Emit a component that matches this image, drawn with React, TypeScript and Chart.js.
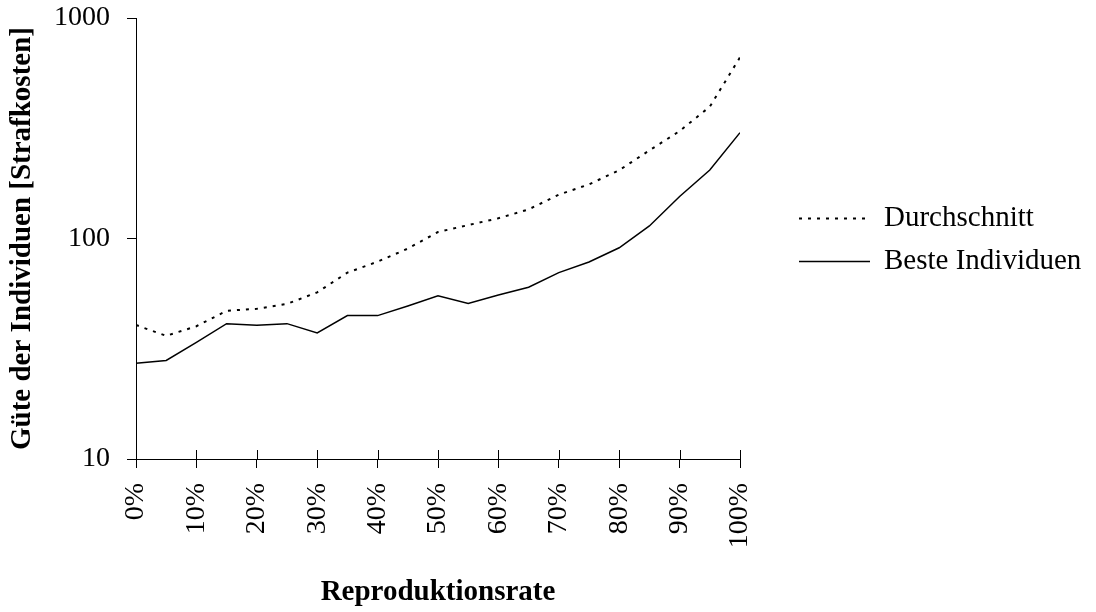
import React, { useEffect, useRef } from "react";
import { Chart, registerables } from "chart.js";

Chart.register(...registerables);

const rates = [0, 5, 10, 15, 20, 25, 30, 35, 40, 45, 50, 55, 60, 65, 70, 75, 80, 85, 90, 95, 100];
const durchschnitt = [40.5, 36.2, 40, 47, 48, 50.5, 57, 70, 78.5, 90, 107, 115, 123.5, 135.5, 158, 176, 204, 251, 307, 396, 663];
const beste = [27.2, 28, 33.8, 41.1, 40.4, 41.1, 37.3, 44.7, 44.7, 49.4, 55, 50.8, 55.4, 60.1, 70, 78.2, 90.8, 114, 155, 204.5, 302];
const seriesLabels = ["Durchschnitt", "Beste Individuen"];
const yTickValues = [10, 100, 1000];
const xTitle = "Reproduktionsrate";
const yTitle = "Güte der Individuen [Strafkosten]";

const FONT = "'Liberation Serif', 'Times New Roman', serif";

const innerTicksPlugin = {
  id: "innerTicks",
  afterDraw(chart: any) {
    const ctx = chart.ctx;
    const xs = chart.scales.x;
    const bottom = chart.chartArea.bottom;
    ctx.save();
    ctx.strokeStyle = "#000";
    ctx.lineWidth = 1;
    xs.ticks.forEach((t: any) => {
      const px = Math.round(xs.getPixelForValue(t.value)) + 0.5;
      ctx.beginPath();
      ctx.moveTo(px, bottom - 9);
      ctx.lineTo(px, bottom);
      ctx.stroke();
    });
    ctx.restore();
  },
};

const legendPlugin = {
  id: "customLegend",
  afterDraw(chart: any) {
    const ctx = chart.ctx;
    const x0 = 799;
    const x1 = 870;
    const tx = 884;
    const ys = [218, 261];
    ctx.save();
    chart.data.datasets.forEach((ds: any, i: number) => {
      const y = ys[i] + 0.5;
      ctx.setLineDash(ds.borderDash || []);
      ctx.lineWidth = ds.borderWidth;
      ctx.strokeStyle = ds.borderColor;
      ctx.beginPath();
      ctx.moveTo(x0, y);
      ctx.lineTo(x1, y);
      ctx.stroke();
      ctx.setLineDash([]);
      ctx.fillStyle = "#000";
      ctx.font = `29px ${FONT}`;
      ctx.textBaseline = "middle";
      ctx.textAlign = "left";
      ctx.fillText(ds.label, tx, ys[i]);
    });
    ctx.restore();
  },
};

export default function App() {
  const ref = useRef<HTMLCanvasElement | null>(null);

  useEffect(() => {
    if (!ref.current) return;
    const chart = new Chart(ref.current, {
      type: "line",
      data: {
        datasets: [
          {
            label: seriesLabels[0],
            data: rates.map((r, i) => ({ x: r, y: durchschnitt[i] })),
            borderColor: "#000",
            borderWidth: 2,
            borderDash: [3, 6],
            pointRadius: 0,
            tension: 0,
            fill: false,
          },
          {
            label: seriesLabels[1],
            data: rates.map((r, i) => ({ x: r, y: beste[i] })),
            borderColor: "#000",
            borderWidth: 1.5,
            pointRadius: 0,
            tension: 0,
            fill: false,
          },
        ],
      },
      options: {
        animation: false,
        responsive: false,
        layout: { padding: { top: 18, right: 356, left: 0, bottom: 0 } },
        plugins: {
          legend: { display: false },
          tooltip: { enabled: false },
        },
        scales: {
          x: {
            type: "linear",
            min: 0,
            max: 100,
            afterFit: (s: any) => {
              s.height = 153;
            },
            ticks: {
              stepSize: 10,
              minRotation: 90,
              maxRotation: 90,
              padding: 15,
              color: "#000",
              font: { family: FONT, size: 28 },
              callback: (v: any) => `${v}%`,
            },
            grid: {
              drawOnChartArea: false,
              drawTicks: true,
              tickLength: 9,
              color: "#000",
            },
            border: { display: true, color: "#000", width: 1 },
            title: {
              display: true,
              text: xTitle,
              color: "#000",
              font: { family: FONT, size: 29, weight: "bold" },
              padding: { top: 0, bottom: 2 },
            },
          },
          y: {
            type: "logarithmic",
            min: 10,
            max: 1000,
            afterFit: (s: any) => {
              s.width = 136;
              s.paddingTop = 0;
              s.paddingBottom = 0;
            },
            afterBuildTicks: (s: any) => {
              s.ticks = yTickValues.map((v) => ({ value: v }));
            },
            ticks: {
              padding: 17,
              color: "#000",
              font: { family: FONT, size: 28 },
              callback: (v: any) => String(v),
            },
            grid: {
              drawOnChartArea: false,
              drawTicks: true,
              tickLength: 9,
              color: "#000",
            },
            border: { display: true, color: "#000", width: 1 },
            title: {
              display: true,
              text: yTitle,
              color: "#000",
              font: { family: FONT, size: 29, weight: "bold" },
              padding: { top: 5, bottom: 0 },
            },
          },
        },
      },
      plugins: [innerTicksPlugin, legendPlugin],
    } as any);
    return () => chart.destroy();
  }, []);

  return (
    <div style={{ position: "absolute", left: 0, top: 0, width: 1096, height: 612, background: "#fff" }}>
      <canvas ref={ref} width={1096} height={612} style={{ display: "block" }} />
    </div>
  );
}
